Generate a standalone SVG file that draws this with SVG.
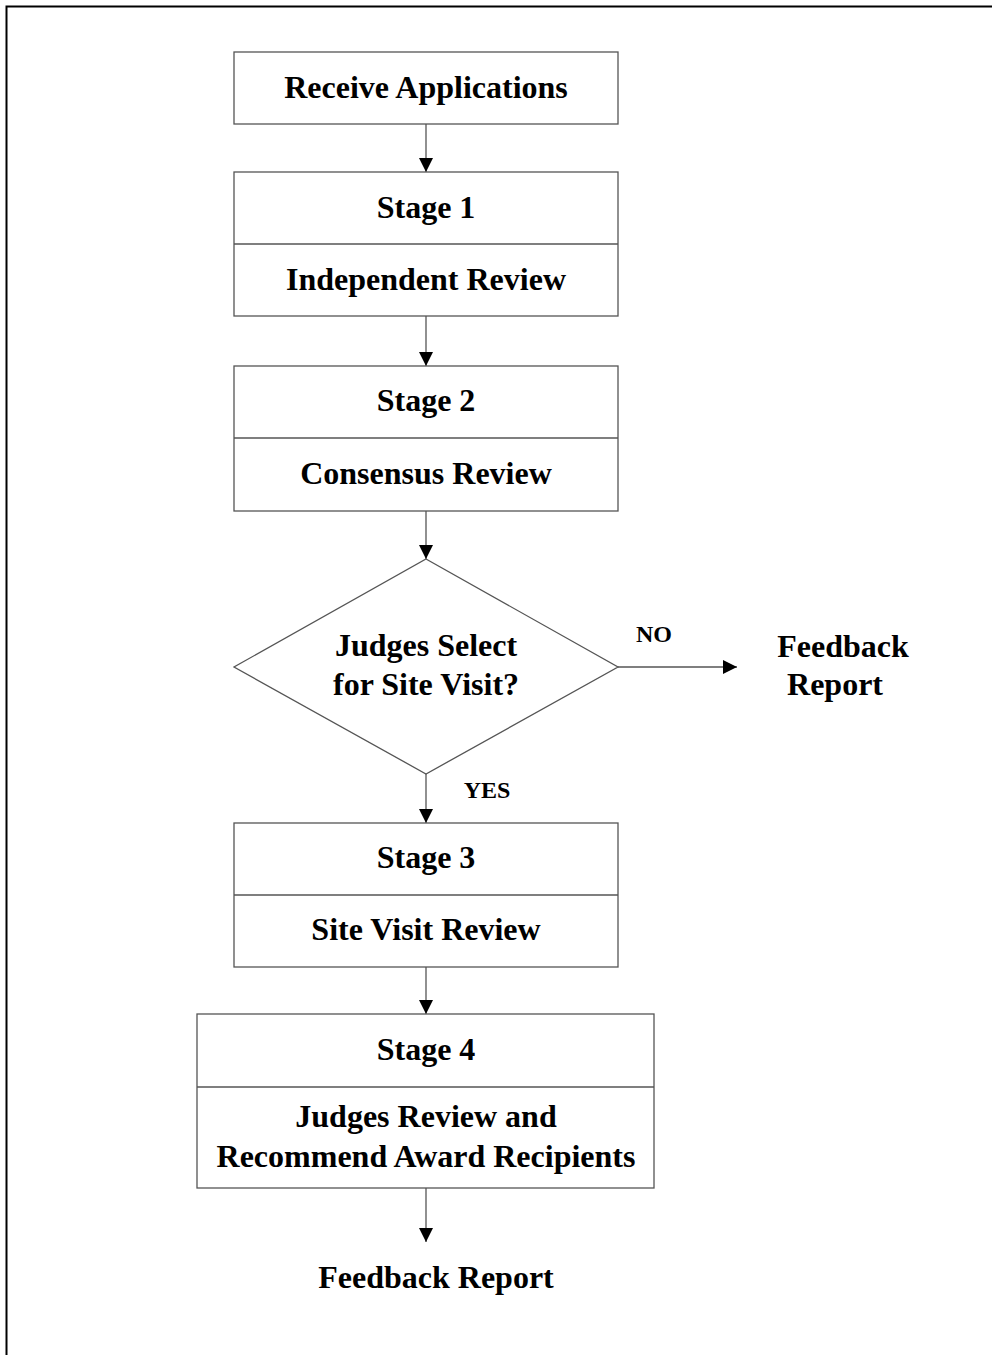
<svg xmlns="http://www.w3.org/2000/svg" width="992" height="1355" viewBox="0 0 992 1355">
<defs>
<style>
.box{fill:#fff;stroke:#555;stroke-width:1.3}
.t{font-family:"Liberation Serif","Times New Roman",serif;font-weight:bold;font-size:32px;fill:#000;text-anchor:middle}
.s{font-family:"Liberation Serif","Times New Roman",serif;font-weight:bold;font-size:24px;fill:#000;text-anchor:middle}
.c{fill:none;stroke:#555;stroke-width:1.3}
</style>
<marker id="ah" viewBox="0 0 14 14" refX="14" refY="7" markerWidth="14" markerHeight="14" markerUnits="userSpaceOnUse" orient="auto">
<path d="M0,0 L14,7 L0,14 Z" fill="#000"/>
</marker>
</defs>
<rect width="992" height="1355" fill="#fff"/>
<path d="M6.5,1355 V6.5 H992" fill="none" stroke="#000" stroke-width="2"/>
<g id="connectors">
<line class="c" x1="426" y1="124" x2="426" y2="172" marker-end="url(#ah)"/>
<line class="c" x1="426" y1="316" x2="426" y2="366" marker-end="url(#ah)"/>
<line class="c" x1="426" y1="511" x2="426" y2="559" marker-end="url(#ah)"/>
<line class="c" x1="618" y1="667" x2="737" y2="667" marker-end="url(#ah)"/>
<line class="c" x1="426" y1="774" x2="426" y2="823" marker-end="url(#ah)"/>
<line class="c" x1="426" y1="967" x2="426" y2="1014" marker-end="url(#ah)"/>
<line class="c" x1="426" y1="1188" x2="426" y2="1242" marker-end="url(#ah)"/>
<text class="s" x="654" y="642">NO</text>
<text class="s" x="487" y="798">YES</text>
</g>
<g id="receive">
<rect class="box" x="234" y="52" width="384" height="72"/>
<text class="t" x="426" y="98">Receive Applications</text>
</g>
<g id="stage1">
<rect class="box" x="234" y="172" width="384" height="144"/>
<line class="box" x1="234" y1="244" x2="618" y2="244"/>
<text class="t" x="426" y="218">Stage 1</text>
<text class="t" x="426" y="290">Independent Review</text>
</g>
<g id="stage2">
<rect class="box" x="234" y="366" width="384" height="145"/>
<line class="box" x1="234" y1="438" x2="618" y2="438"/>
<text class="t" x="426" y="411">Stage 2</text>
<text class="t" x="426" y="484">Consensus Review</text>
</g>
<g id="decision">
<polygon class="box" points="426,559 618,667 426,774 234,667"/>
<text class="t" x="426" y="656">Judges Select</text>
<text class="t" x="426" y="695">for Site Visit?</text>
</g>
<g id="feedback1">
<text class="t" x="843" y="657">Feedback</text>
<text class="t" x="835" y="695">Report</text>
</g>
<g id="stage3">
<rect class="box" x="234" y="823" width="384" height="144"/>
<line class="box" x1="234" y1="895" x2="618" y2="895"/>
<text class="t" x="426" y="868">Stage 3</text>
<text class="t" x="426" y="940">Site Visit Review</text>
</g>
<g id="stage4">
<rect class="box" x="197" y="1014" width="457" height="174"/>
<line class="box" x1="197" y1="1087" x2="654" y2="1087"/>
<text class="t" x="426" y="1060">Stage 4</text>
<text class="t" x="426" y="1127">Judges Review and</text>
<text class="t" x="426" y="1167">Recommend Award Recipients</text>
</g>
<g id="feedback2">
<text class="t" x="436" y="1288">Feedback Report</text>
</g>
</svg>
